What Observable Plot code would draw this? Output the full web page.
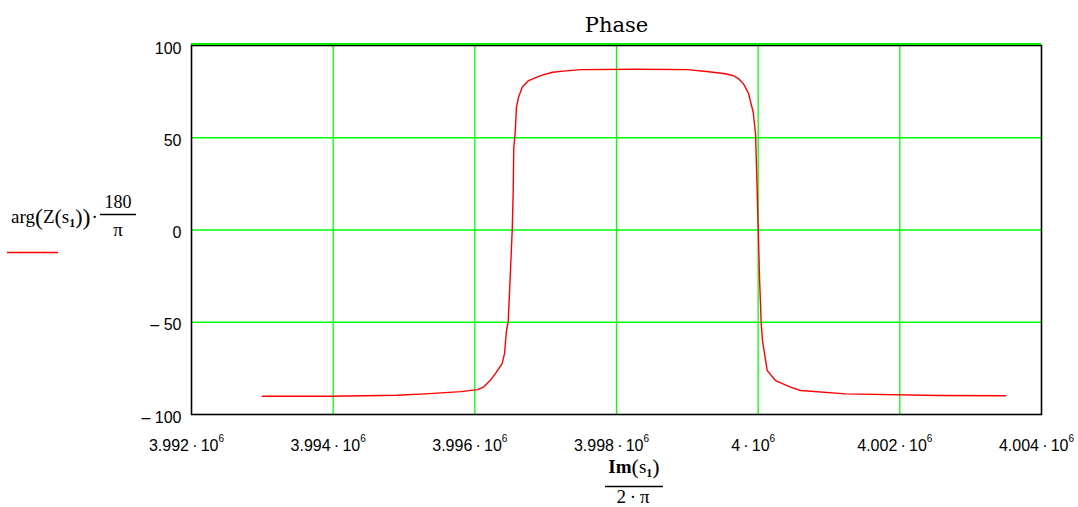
<!DOCTYPE html>
<html>
<head>
<meta charset="utf-8">
<script src="https://cdn.jsdelivr.net/npm/d3@7"></script>
<script src="https://cdn.jsdelivr.net/npm/@observablehq/plot@0.6"></script>
<style>
html, body { margin: 0; padding: 0; background: #fff; }
#chart { width: 1078px; height: 507px; }
</style>
</head>
<body>
<div id="chart"></div>
<script>
// ---- data ----
const freq = [
  3993000, 3993960, 3994900, 3995300, 3995800, 3996040, 3996120, 3996220,
  3996290, 3996385, 3996420, 3996447, 3996471, 3996500, 3996528, 3996542,
  3996550, 3996570, 3996588, 3996617, 3996669, 3996758, 3996927, 3997097,
  3997252, 3997500, 3998300, 3999000, 3999271, 3999539, 3999650, 3999723,
  3999793, 3999864, 3999930, 3999963, 3999987, 4000019, 4000043, 4000061,
  4000128, 4000245, 4000457, 4000598, 4001233, 4002546, 4003492
];
const phase = [
  -90.1, -90.1, -89.6, -88.8, -87.6, -86.5, -85.2, -81.5,
  -77.8, -72.4, -66.9, -54.5, -49.6, -25.0, 0.3, 21.4,
  45.0, 53.0, 66.6, 72.0, 77.4, 81.0, 83.7, 85.5,
  86.1, 86.9, 87.1, 86.9, 85.9, 84.7, 83.6, 82.0,
  79.2, 74.0, 63.8, 52.3, 19.8, -25.6, -50.7, -59.9,
  -76.2, -81.6, -85.2, -87.0, -88.8, -89.7, -89.8
];
const xTicks = [3992000, 3994000, 3996000, 3998000, 4000000, 4002000, 4004000];
const xTickMantissa = ["3.992", "3.994", "3.996", "3.998", "4", "4.002", "4.004"];
const xTickExponent = "6";
const yTicks = [-100, -50, 0, 50, 100];
const yTickLabels = ["\u2013 100", "\u2013 50", "0", "50", "100"];
const titleText = "Phase";

const data = freq.map((f, i) => ({f, p: phase[i]}));

const plot = Plot.plot({
  width: 1078,
  height: 507,
  marginLeft: 191,
  marginRight: 37,
  marginTop: 45,
  marginBottom: 93,
  style: {background: "#fff"},
  x: {domain: [xTicks[0], xTicks[xTicks.length - 1]], axis: null},
  y: {domain: [yTicks[0], yTicks[yTicks.length - 1]], axis: null},
  marks: [
    Plot.ruleX(xTicks.slice(1, -1), {stroke: "#00ff00", strokeWidth: 1.3}),
    Plot.ruleY(yTicks.slice(1, -1), {stroke: "#00ff00", strokeWidth: 1.3}),
    Plot.line(data, {x: "f", y: "p", stroke: "#ff0000", strokeWidth: 1.4}),
    Plot.frame({stroke: "#000", strokeWidth: 1.6}),
    Plot.ruleY([yTicks[yTicks.length - 1]], {stroke: "#00ee00", strokeWidth: 2, dy: -1.5}),
    Plot.text(yTicks, {
      y: d => d, text: (d, i) => yTickLabels[i],
      frameAnchor: "left", lineAnchor: "middle", dx: -10, dy: 3, textAnchor: "end",
      fontFamily: "'Liberation Sans', Arial, sans-serif", fontSize: 16, fill: "#000"
    }),
    Plot.text(xTicks, {
      x: d => d, text: (d, i) => xTickMantissa[i] + "\u2009\u00b7\u200910",
      frameAnchor: "bottom", lineAnchor: "middle", dy: 31, dx: -5, textAnchor: "middle",
      fontFamily: "'Liberation Sans', Arial, sans-serif", fontSize: 16, fill: "#000",
      className: "xticklabel"
    }),
    Plot.text([titleText], {
      text: d => d, frameAnchor: "top", lineAnchor: "middle", dy: -20,
      fontFamily: "'DejaVu Serif', serif", fontSize: 21, fill: "#000"
    })
  ]
});

document.getElementById("chart").appendChild(plot);

const svg = d3.select(plot);

// superscript exponent on x tick labels
svg.selectAll(".xticklabel text")
  .append("tspan").attr("font-size", 10).attr("dy", -9).text(xTickExponent);

// math labels
const g = svg.append("g")
  .attr("font-family", "'Liberation Serif', 'Times New Roman', serif")
  .attr("fill", "#000")
  .attr("text-anchor", "start");

// y label: arg(Z(s1)) * 180/pi
const yl = g.append("text").attr("x", 11).attr("y", 223).attr("font-size", 19)
  .attr("text-anchor", "start");
yl.append("tspan").text("arg");
yl.append("tspan").attr("font-size", 24).attr("dy", 2).text("(");
yl.append("tspan").attr("dy", -2).text("Z");
yl.append("tspan").attr("font-size", 22).attr("dy", 1).text("(");
yl.append("tspan").attr("dy", -1).text("s");
yl.append("tspan").attr("font-size", 12).attr("font-weight", "bold").attr("dy", 4).text("1");
yl.append("tspan").attr("font-size", 22).attr("dy", -3).text(")");
yl.append("tspan").attr("font-size", 24).attr("dy", 1).text(")");
yl.append("tspan").attr("dy", -2).attr("dx", 1).text("\u00b7");

g.append("text").attr("x", 118).attr("y", 208).attr("font-size", 18)
  .attr("text-anchor", "middle").text("180");
g.append("line").attr("x1", 100).attr("x2", 136).attr("y1", 214.5).attr("y2", 214.5)
  .attr("stroke", "#000").attr("stroke-width", 1.3);
g.append("text").attr("x", 118).attr("y", 236).attr("font-size", 19)
  .attr("text-anchor", "middle").text("\u03c0");

// legend swatch
g.append("line").attr("x1", 7).attr("x2", 58).attr("y1", 252.5).attr("y2", 252.5)
  .attr("stroke", "#ff0000").attr("stroke-width", 1.3);

// x label: Im(s1) / (2*pi)
const xl = g.append("text").attr("x", 634).attr("y", 473).attr("font-size", 19)
  .attr("text-anchor", "middle");
xl.append("tspan").attr("font-weight", "bold").text("Im");
xl.append("tspan").attr("font-size", 22).attr("dy", 1).text("(");
xl.append("tspan").attr("dy", -1).text("s");
xl.append("tspan").attr("font-size", 12).attr("font-weight", "bold").attr("dy", 4).text("1");
xl.append("tspan").attr("font-size", 22).attr("dy", -3).text(")");
g.append("line").attr("x1", 605).attr("x2", 663).attr("y1", 486.5).attr("y2", 486.5)
  .attr("stroke", "#000").attr("stroke-width", 1.3);
g.append("text").attr("x", 633).attr("y", 503).attr("font-size", 19)
  .attr("text-anchor", "middle").text("2\u2009\u00b7\u2009\u03c0");
</script>
</body>
</html>
